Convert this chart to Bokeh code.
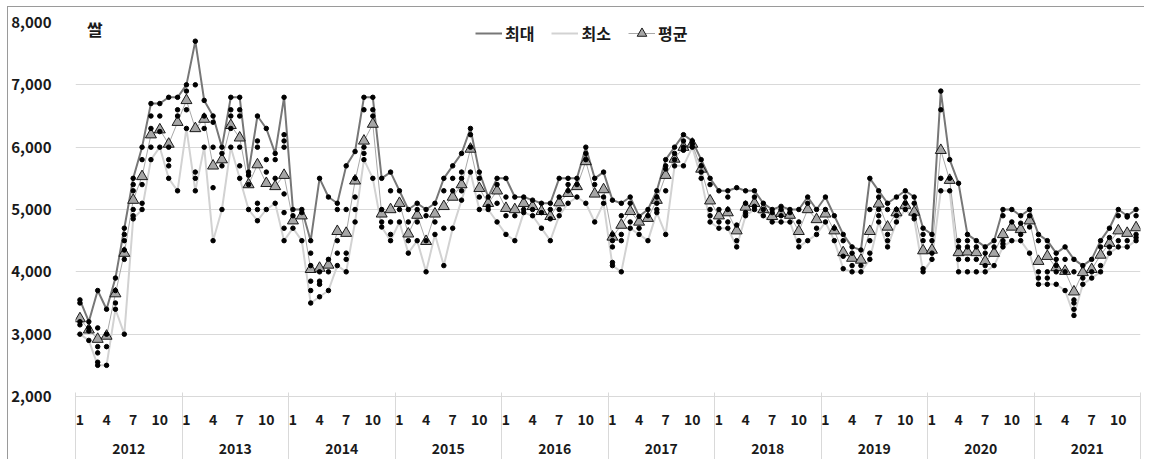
from bokeh.plotting import figure
from bokeh.models import (LinearAxis, FixedTicker, NumeralTickFormatter, Legend,
                          LegendItem, Label, BoxAnnotation)
from bokeh.embed import file_html
from bokeh.resources import INLINE

years = [2012, 2013, 2014, 2015, 2016, 2017, 2018, 2019, 2020, 2021]
month_ticks = [1, 4, 7, 10]

# monthly maximum (최대), 2012-01 .. 2021-12
max_price = [
    3550, 3200, 3700, 3400, 3900, 4700, 5500, 6000, 6700, 6700, 6800, 6800,
    7000, 7700, 6750, 6500, 6000, 6800, 6800, 5600, 6500, 6300, 5900, 6800,
    5000, 5000, 4500, 5500, 5200, 5100, 5700, 5930, 6800, 6800, 5500, 5600,
    5300, 5000, 5100, 5000, 5100, 5500, 5700, 5900, 6300, 5600, 5200, 5500,
    5500, 5200, 5200, 5150, 5100, 5100, 5500, 5500, 5500, 6000, 5500, 5600,
    5150, 5100, 5200, 4890, 5000, 5300, 5800, 6000, 6200, 6100, 5800, 5500,
    5300, 5300, 5350, 5300, 5300, 5100, 5000, 5050, 5000, 5000, 5200, 5000,
    5200, 4900, 4600, 4400, 4350, 5500, 5300, 5100, 5200, 5300, 5200, 4700,
    4600, 6900, 5800, 5420, 4600, 4500, 4400, 4500, 5000, 5000, 4900, 5000,
    4600, 4500, 4300, 4400, 4200, 4100, 4200, 4500, 4700, 5000, 4900, 5000,
]
# monthly minimum (최소)
min_price = [
    3000, 2900, 2500, 2500, 3400, 3000, 4850, 5000, 5800, 6000, 5500, 5300,
    6300, 5300, 6000, 4500, 5000, 6000, 5500, 5000, 4820, 5000, 5100, 4500,
    4700, 4500, 3500, 3600, 3700, 4100, 4000, 4800, 5800, 5500, 4720, 4500,
    4800, 4300, 4500, 4000, 4600, 4100, 4700, 5150, 5600, 5000, 5000, 4800,
    4600, 4500, 4950, 4900, 4700, 4500, 4900, 5100, 5200, 5100, 4800, 5100,
    4100, 4000, 4700, 4600, 4500, 4950, 4600, 5700, 5700, 6000, 5500, 4800,
    4700, 4700, 4400, 4900, 5000, 4900, 4800, 4800, 4800, 4400, 4500, 4600,
    4800, 4500, 4050, 4000, 4000, 4200, 4800, 4400, 4800, 5000, 4850, 4000,
    4200, 5300, 5300, 4000, 4000, 4000, 4000, 4100, 4400, 4500, 4500, 4300,
    3800, 3800, 3800, 3700, 3300, 3800, 3900, 4000, 4300, 4400, 4400, 4500,
]
# monthly average (평균)
avg_price = [
    3250, 3070, 2920, 2970, 3650, 4300, 5150, 5530, 6200, 6280, 6050, 6400,
    6750, 6300, 6450, 5700, 5800, 6350, 6150, 5400, 5720, 5420, 5370, 5550,
    4820, 4900, 4040, 4060, 4110, 4650, 4620, 5460, 6100, 6370, 4930, 5000,
    5100, 4610, 4910, 4490, 4930, 5050, 5200, 5400, 5970, 5340, 5100, 5300,
    5020, 5000, 5100, 5050, 4970, 4890, 5110, 5260, 5370, 5770, 5250, 5320,
    4560, 4750, 4970, 4800, 4860, 5150, 5550, 5810, 6000, 6050, 5650, 5140,
    4900, 4950, 4660, 5040, 5100, 5000, 4890, 4940, 4910, 4650, 5000, 4840,
    4930, 4660, 4310, 4220, 4190, 4650, 5090, 4720, 4950, 5070, 4960, 4340,
    4350, 5950, 5470, 4310, 4320, 4310, 4170, 4300, 4600, 4720, 4680, 4820,
    4170, 4250, 4070, 4010, 3680, 3990, 4040, 4270, 4460, 4660, 4620, 4710,
]
# other individual observations per month (besides max and min)
other_prices = [
    [3500, 3200, 3150], [3100, 3050], [3100, 2800, 2700, 2550], [3000, 2800],
    [3700, 3500], [4600, 4500, 4350, 4200], [5400, 5300, 5000, 4900],
    [5800, 5400, 5100], [6500, 6300, 6000], [6500, 6250], [6000, 5800, 5700],
    [6600, 6500],
    [6900, 6600], [7000, 5600, 5500], [6500, 6300], [6400, 6000, 5350],
    [5900, 5700], [6600, 6500, 6300], [6600, 6500, 6000, 5700], [5550, 5400],
    [6100, 6000, 5100, 5000], [5800, 5600], [5800, 5500],
    [6200, 6100, 6000, 5250, 4950, 4700],
    [4900], [4950], [4300, 4100, 3850, 3700], [4000, 3850, 3800], [4200, 4000],
    [5000, 4500, 4300], [5000, 4300, 4200], [5500, 5200, 5000],
    [6600, 6000, 5900], [6600, 6500], [5000, 4800], [5300, 4800, 4600],
    [5000], [4800, 4500], [5000, 4800], [4900, 4500], [4800], [5300, 4700],
    [5500, 5300], [5600, 5500, 5300], [6200, 6000], [5500, 5200], [5050],
    [5400, 5100],
    [5200, 4900], [4900], [5000], [5000], [4950], [5000, 4850], [5200, 5000],
    [5400, 5300], [5400], [5900, 5800], [5400], [5200],
    [4600, 4500, 4400, 4150], [4900, 4600, 4500], [5100, 4800], [4700], [4900],
    [5200, 5100, 5000], [5700, 5650, 5300], [5900, 5800], [6100, 6000, 5950],
    [6050], [5700, 5600], [5400, 5000, 4900],
    [5000, 4800], [5200, 5000, 4800], [4750, 4500], [5100, 4950], [5200, 5050],
    [5000], [4950], [5000, 4900], [4950], [4800, 4500], [5100], [4700],
    [5000], [4700], [4500, 4250], [4300, 4100], [4100], [5000, 4500, 4300],
    [5200, 5000, 4900], [5000, 4600, 4500], [5000, 4900], [5200, 5100],
    [5100, 4900], [4600, 4500, 4050],
    [4500, 4300], [6600, 5500], [5500], [4500, 4400, 4200], [4500, 4400, 4200],
    [4400, 4200], [4300, 4100], [4400], [4900, 4500, 4450], [4800],
    [4780, 4600], [4900, 4720],
    [4500, 4000, 3900], [4400, 4000, 3900], [4200, 4100, 4000], [4200, 4000],
    [4000, 3550, 3500, 3400], [3900], [4000], [4400, 4100], [4550, 4400],
    [4900, 4500], [4880, 4500], [4900, 4600, 4550],
]

n = len(max_price)
xs = [2 * i + 1 for i in range(n)]

dot_x, dot_y = [], []
for i in range(n):
    for v in [max_price[i], min_price[i]] + other_prices[i]:
        dot_x.append(xs[i])
        dot_y.append(v)

FONT = "Noto Sans CJK KR"
TXT = "#1a1a1a"
SEP = "#d9d9d9"

p = figure(frame_width=1065, frame_height=374, x_range=(0, 2 * n), y_range=(2000, 8000),
           output_backend="svg", toolbar_location=None,
           min_border_left=67, min_border_right=4, min_border_top=15, min_border_bottom=0)
p.styles = {"margin-left": "7px", "margin-top": "6px",
            "border-top": "1px solid #9a9a9a", "border-left": "1px solid #9a9a9a"}
p.outline_line_color = None
p.background_fill_color = "white"
p.border_fill_color = "white"

p.xgrid.visible = False
p.ygrid.grid_line_color = SEP
p.ygrid.grid_line_width = 1
p.ygrid.ticker = FixedTicker(ticks=[2000, 3000, 4000, 5000, 6000, 7000, 8000])

ya = p.yaxis[0]
ya.ticker = FixedTicker(ticks=[2000, 3000, 4000, 5000, 6000, 7000, 8000])
ya.formatter = NumeralTickFormatter(format="0,0")
ya.axis_line_color = None
ya.major_tick_line_color = None
ya.minor_tick_line_color = None
ya.major_label_standoff = 18
ya.major_label_text_font = FONT
ya.major_label_text_font_style = "bold"
ya.major_label_text_font_size = "15px"
ya.major_label_text_color = TXT

# month axis
mt = []
mo = {}
for k, yr in enumerate(years):
    for m in month_ticks:
        pos = 24 * k + 2 * (m - 1) + 1
        mt.append(pos)
        mo[pos] = str(m)
xa = p.xaxis[0]
xa.ticker = FixedTicker(ticks=mt)
xa.major_label_overrides = mo
xa.axis_line_color = SEP
xa.major_tick_line_color = None
xa.minor_tick_line_color = None
xa.major_label_standoff = 11
xa.major_label_text_font = FONT
xa.major_label_text_font_style = "bold"
xa.major_label_text_font_size = "14px"
xa.major_label_text_color = TXT

yt = [24 * k + 12 for k in range(len(years))]
year_axis = LinearAxis(ticker=FixedTicker(ticks=yt),
                       major_label_overrides={t: str(y) for t, y in zip(yt, years)})
year_axis.axis_line_color = None
year_axis.major_tick_line_color = None
year_axis.minor_tick_line_color = None
year_axis.major_label_standoff = 9
year_axis.major_label_text_font = FONT
year_axis.major_label_text_font_style = "bold"
year_axis.major_label_text_font_size = "14px"
year_axis.major_label_text_color = TXT
p.add_layout(year_axis, "below")

# year separators drawn upward from the bottom-most axis
bt = [24 * k for k in range(len(years) + 1)]
sep_axis = LinearAxis(ticker=FixedTicker(ticks=bt),
                      major_label_overrides={t: "" for t in bt})
sep_axis.axis_line_color = None
sep_axis.major_tick_in = 64
sep_axis.major_tick_out = 6
sep_axis.major_tick_line_color = SEP
sep_axis.minor_tick_line_color = None
sep_axis.major_label_standoff = 0
sep_axis.major_label_text_font_size = "1px"
p.add_layout(sep_axis, "below")

# white patch behind the title
p.add_layout(BoxAnnotation(left=0, right=19, bottom=7950, top=8010, fill_color="white",
                           fill_alpha=1, line_alpha=0, level="underlay"))

r_max = p.line(xs, max_price, line_color="#777777", line_width=2)
r_min = p.line(xs, min_price, line_color="#d2d2d2", line_width=2)
r_avgl = p.line(xs, avg_price, line_color="#a8a8a8", line_width=1)
r_tri = p.scatter(xs, avg_price, marker="triangle", size=11, fill_color="#a6a6a6",
                  line_color=TXT, line_width=1)
p.scatter(dot_x, dot_y, marker="circle", size=4.5, fill_color="black", line_color="black")

title = Label(x=2.6, y=7900, text="쌀", text_font=FONT, text_font_style="bold",
              text_font_size="17px", text_baseline="middle", text_color=TXT)
p.add_layout(title)

legend = Legend(items=[LegendItem(label="최대", renderers=[r_max]),
                       LegendItem(label="최소", renderers=[r_min]),
                       LegendItem(label="평균", renderers=[r_avgl, r_tri])],
                orientation="horizontal", location=(398, 349),
                glyph_width=27, glyph_height=24, label_height=24, label_standoff=3,
                spacing=17, padding=2, margin=0, background_fill_alpha=0,
                border_line_alpha=0,
                label_text_font=FONT, label_text_font_style="bold",
                label_text_font_size="16px", label_text_color=TXT)
p.add_layout(legend)

open("out.html", "w").write(file_html(p, INLINE))
